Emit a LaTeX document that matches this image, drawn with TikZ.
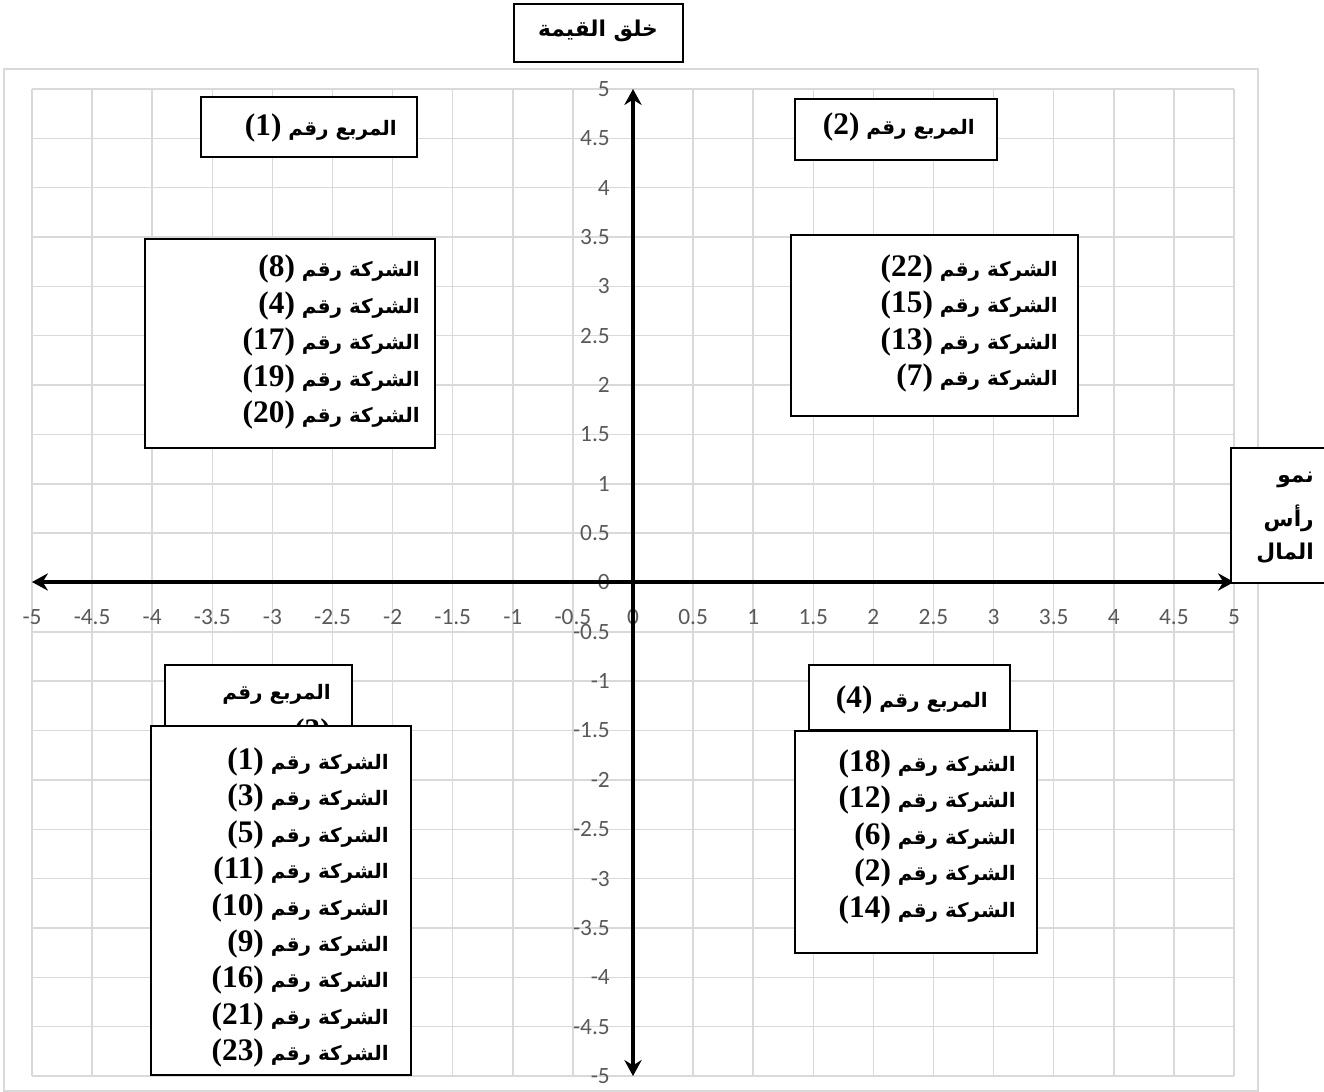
\documentclass[tikz,border=0pt]{standalone}
\usepackage{fontspec}
\usetikzlibrary{arrows.meta,fit}
\TeXXeTstate=1
\newfontfamily\arabicfont[Script=Arabic,Scale=0.68]{DejaVu Sans}
\newfontfamily\latinb{Liberation Serif}
\newfontfamily\tickfont{Carlito}
\definecolor{gridc}{HTML}{D9D9D9}
\definecolor{tickc}{HTML}{595959}
\newcommand{\artxt}[1]{{\arabicfont\bfseries\beginR #1\endR}}
\newcommand{\nm}[1]{\beginL{\latinb\bfseries\fontsize{23.5}{27}\selectfont (#1)}\endL{}}
\tikzset{
  gridline/.style={draw=gridc, line width=1.1pt},
  tick/.style={font=\tickfont\fontsize{17.5}{20}\selectfont, text=tickc, inner sep=0pt},
  axisline/.style={line width=3pt, {Stealth[length=12pt,width=13pt,inset=4pt]}-{Stealth[length=12pt,width=13pt,inset=4pt]}},
  box/.style={draw=black, line width=1.2pt, fill=white, inner sep=0pt},
  atext/.style={font=\fontsize{22}{27}\selectfont, inner sep=0pt, anchor=east},
  btext/.style={font=\fontsize{24}{27}\selectfont, inner sep=0pt}
}
\begin{document}
\begin{tikzpicture}[x=0.75pt,y=-0.75pt]
\useasboundingbox (0,0) rectangle (1324,1092);
% chart area
\draw[gridline] (4,69) rectangle (1258,1091);
% grid
\foreach \i in {0,...,20}{
  \draw[gridline] ({32+60.1*\i},89) -- ({32+60.1*\i},1076);
  \draw[gridline] (32,{89+49.35*\i}) -- (1234,{89+49.35*\i});
}
% tick labels
\foreach \v [count=\i from 0] in {-5,-4.5,-4,-3.5,-3,-2.5,-2,-1.5,-1,-0.5,0,0.5,1,1.5,2,2.5,3,3.5,4,4.5,5}
  \node[tick] (xt\i) at ({32+60.1*\i},617) {\v};
\foreach \v [count=\i from 0] in {5,4.5,4,3.5,3,2.5,2,1.5,1,0.5,0,-0.5,-1,-1.5,-2,-2.5,-3,-3.5,-4,-4.5,-5}
  \node[tick, anchor=east] (yt\i) at (610,{89+49.35*\i}) {\v};
% axes
\coordinate (xleft) at (32,582);
\coordinate (xright) at (1234,582);
\coordinate (ytop) at (633,89);
\coordinate (ybot) at (633,1076);
\draw[axisline] (xleft) -- (xright);
\draw[axisline] (ybot) -- (ytop);
% boxes
\node[box, fit={(514,4) (683,62)}] (topbox) {};
\node[btext] (toptxt) at (598,31) {\artxt{خلق القيمة}};
\node[box, fit={(201,97) (417,157)}] (h1) {};
\node[atext] (h1t) at (397,127.5) {\artxt{المربع رقم \nm{1}}};
\node[box, fit={(795,99) (997,160)}] (h2) {};
\node[atext] (h2t) at (975,127) {\artxt{المربع رقم \nm{2}}};
\node[box, fit={(145,239) (435,448)}] (l1) {};
\foreach \n [count=\k from 0] in {8,4,17,19,20}
  \node[atext] (l1t\k) at (420,{269+36.5*\k}) {\artxt{الشركة رقم \nm{\n}}};
\node[box, fit={(791,235) (1078,416)}] (l2) {};
\foreach \n [count=\k from 0] in {22,15,13,7}
  \node[atext] (l2t\k) at (1058,{268.5+36.5*\k}) {\artxt{الشركة رقم \nm{\n}}};
\node[box, fit={(165,665) (352,745)}] (h3) {};
\node[atext] (h3t) at (331,694) {\artxt{المربع رقم}};
\node[atext] (h3n) at (331,733) {\artxt{\nm{3}}};
\node[box, fit={(151,726) (411,1075)}] (l3) {};
\foreach \n [count=\k from 0] in {1,3,5,11,10,9,16,21,23}
  \node[atext] (l3t\k) at (389,{762+36.4*\k}) {\artxt{الشركة رقم \nm{\n}}};
\node[box, fit={(809,665) (1010,730)}] (h4) {};
\node[atext] (h4t) at (988,699.5) {\artxt{المربع رقم \nm{4}}};
\node[box, fit={(795,731) (1037,953)}] (l4) {};
\foreach \n [count=\k from 0] in {18,12,6,2,14}
  \node[atext] (l4t\k) at (1016,{763.5+36.5*\k}) {\artxt{الشركة رقم \nm{\n}}};
% right box (cut at the right edge)
\node[fill=white, inner sep=0pt, fit={(1231,448) (1324,583)}] (rb) {};
\draw[line width=1.2pt] (rb.north east) -- (rb.north west) -- (rb.south west) -- (rb.south east);
\node[btext, anchor=east] (rb1) at (1314,480) {\artxt{نمو}};
\node[btext, anchor=east] (rb2) at (1314,518) {\artxt{رأس}};
\node[btext, anchor=east] (rb3) at (1314,553) {\artxt{المال}};
\end{tikzpicture}
\end{document}
